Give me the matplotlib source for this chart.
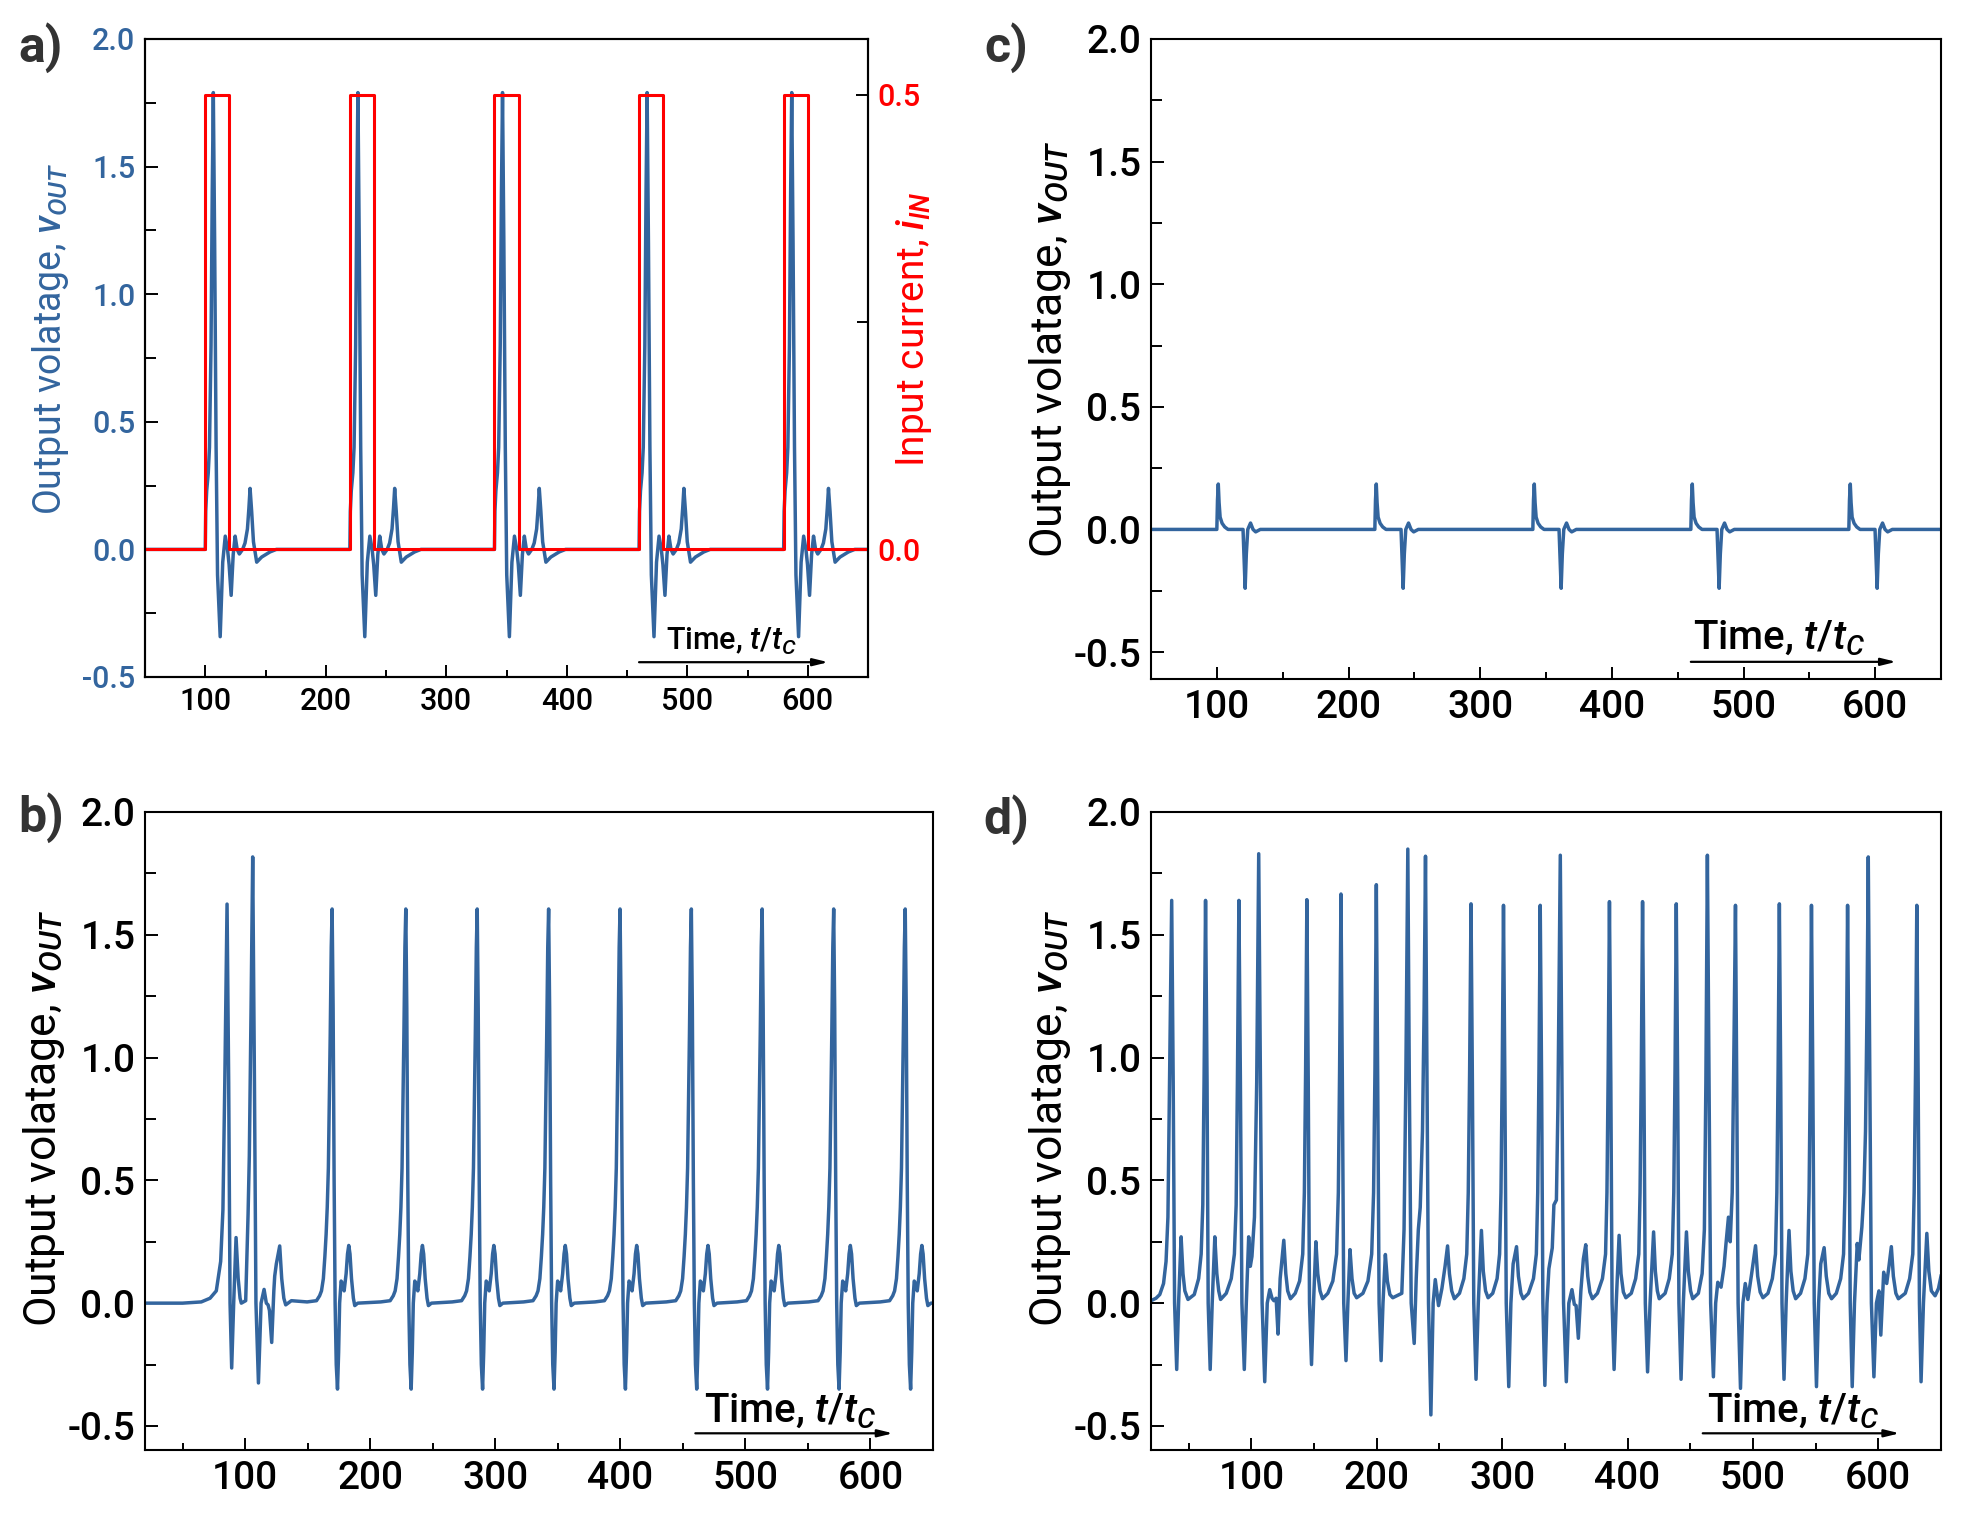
import matplotlib
matplotlib.use('Agg')
import matplotlib.pyplot as plt
from matplotlib.ticker import MultipleLocator

plt.rcParams['font.family'] = ['Roboto', 'DejaVu Sans']
plt.rcParams['font.weight'] = 'medium'
plt.rcParams['mathtext.fontset'] = 'custom'
plt.rcParams['mathtext.rm'] = 'Roboto:medium'
plt.rcParams['mathtext.it'] = 'Roboto:italic:medium'
plt.rcParams['mathtext.bf'] = 'Roboto:bold'

BLUE = '#33659e'
RED = '#ff0000'
DARK = '#333333'

# ---------------- panel a : pulses of input current and response ----------------
a_pulse_starts = [100, 220, 340, 460, 580]
a_pulse_ends = [120, 240, 360, 480, 600]
a_pulse_level = 0.5
# response to one pulse, time measured from pulse start
a_resp_dt = [0, 0.4, 1.2, 2.5, 3.5, 4.8, 5.8, 6.7, 7.8, 9.0, 10.2, 12.4, 14.5, 16.6, 18.5,
             19.8, 21.5, 23.2, 24.8, 26.5, 28.3, 31.0, 33.0, 35.0, 36.2, 37.2, 38.5, 40.0,
             42.7, 46.8, 53.7, 59.0]
a_resp_v = [0.0, 0.15, 0.23, 0.30, 0.40, 0.80, 1.40, 1.79, 1.20, 0.40, -0.10, -0.342, -0.05,
            0.052, 0.0, -0.06, -0.18, -0.02, 0.052, 0.0, -0.018, 0.0, 0.025, 0.08, 0.16, 0.239,
            0.15, 0.03, -0.05, -0.03, -0.01, 0.0]

# ---------------- panel c : sub-threshold response ----------------
c_pulse_starts = [100, 220, 340, 460, 580]
c_resp_dt = [0, 0.5, 1.1, 1.7, 2.5, 4.0, 6.0, 8.5, 19.9, 20.7, 21.5, 22.4, 23.5, 25.6,
             27.5, 29.5, 33.0]
c_resp_v = [0.0, 0.12, 0.185, 0.11, 0.05, 0.025, 0.01, 0.0, 0.0, -0.12, -0.24, -0.10, 0.0,
            0.026, 0.0, -0.01, 0.0]

# ---------------- panel b : periodic spiking ----------------
b_lead_t = [20, 50, 65, 72, 77, 80.5, 82.3, 83.8, 85.6, 86.9, 88.0, 89.3, 90.9, 92.8, 94.5,
            96.0, 97.0, 100.5, 102.4, 103.4, 104.8, 106.1, 107.5, 108.7, 110.7, 112.8, 115.2,
            117.0, 118.4, 119.5, 121.3, 123.0, 123.7, 125.0, 127.7, 129.3, 131.0, 132.5, 137.0,
            149.0]
b_lead_v = [0.0, 0.0, 0.005, 0.02, 0.05, 0.17, 0.38, 0.9, 1.625, 0.9, 0.0, -0.264, 0.0, 0.267,
            0.1, 0.02, 0.0, 0.01, 0.36, 0.6, 1.2, 1.817, 0.9, 0.0, -0.325, 0.0, 0.056, 0.0,
            -0.007, -0.03, -0.16, 0.05, 0.11, 0.16, 0.233, 0.1, 0.02, -0.007, 0.01, 0.005]
b_spike_times = [169.6, 228.5, 285.6, 342.7, 399.8, 456.8, 513.4, 570.6, 627.8]
b_spike_dt = [-20, -12.5, -10, -8.5, -7, -5.8, -4.8, -3.9, -3.0, -2.3, -1.5, -0.7, 0, 0.8, 1.6,
              2.4, 3.3, 4.3, 5.2, 6.0, 7.2, 8.2, 9.6, 11.2, 12.3, 13.3, 14.3, 15.5, 17.0, 18.1,
              20.5]
b_spike_v = [0.005, 0.01, 0.03, 0.05, 0.1, 0.19, 0.28, 0.39, 0.55, 0.8, 1.1, 1.45, 1.605, 1.2,
             0.5, 0.0, -0.25, -0.35, -0.2, 0.0, 0.09, 0.08, 0.05, 0.12, 0.2, 0.235, 0.2, 0.1,
             0.02, -0.01, 0.0]
b_tail_t = [650]
b_tail_v = [0.0]

# ---------------- panel d : irregular spiking ----------------
d_part1 = [(20, 0.01), (24, 0.02), (27, 0.035), (30, 0.08), (32, 0.17), (33.5, 0.35), (34.8, 0.9),
           (36.5, 1.64), (37.7, 0.9), (38.8, 0.0), (40.5, -0.27), (42, 0.0), (44, 0.27),
           (45.5, 0.12), (47, 0.05), (49.5, 0.015),
           (54.5, 0.035), (58, 0.1), (60, 0.2), (61.3, 0.4), (62.3, 0.9), (63.5, 1.64),
           (64.7, 0.9), (65.6, 0.0), (67.2, -0.27), (68.8, 0.0), (70.9, 0.27), (72.5, 0.12),
           (74, 0.05), (75.5, 0.015),
           (80, 0.04), (84, 0.1), (86.5, 0.2), (87.9, 0.4), (88.9, 0.9), (90.1, 1.64), (91.3, 0.9),
           (92.5, 0.0), (94.4, -0.27), (96, 0.0), (97.9, 0.27), (99.2, 0.15), (100.5, 0.19),
           (102.5, 0.35), (104.3, 0.9), (105.9, 1.83), (107.3, 0.9), (108.6, 0.0), (110.7, -0.32),
           (112.7, 0.0), (114.7, 0.055), (116.5, 0.02), (118, 0.01), (119.8, 0.02), (121.3, -0.126),
           (123, 0.1), (125.9, 0.256), (127.5, 0.12), (129, 0.05), (131.2, 0.018)]
d_part2 = [(135, 0.04), (138.5, 0.09), (141, 0.2), (142.3, 0.45), (143.3, 0.95), (144.3, 1.643),
           (145.4, 0.9), (146.4, 0.0), (148, -0.25), (149.6, 0.0), (151.5, 0.25), (153, 0.12),
           (154.8, 0.05), (156.8, 0.018),
           (161, 0.04), (165, 0.09), (168, 0.2), (169.4, 0.45), (170.4, 0.95), (171.5, 1.666),
           (172.6, 0.9), (173.7, 0.0), (175.5, -0.234), (177, 0.0), (178.7, 0.218), (180.3, 0.1),
           (182, 0.04), (184, 0.022),
           (189, 0.04), (193, 0.09), (196, 0.2), (197.5, 0.45), (198.6, 0.95), (199.7, 1.704),
           (200.8, 0.9), (201.9, 0.0), (203.5, -0.234), (205, 0.0), (206.9, 0.198), (208.5, 0.09),
           (210.5, 0.035), (212.8, 0.022), (216, 0.03), (220, 0.04), (221.8, 0.3), (223.2, 0.9),
           (224.8, 1.849), (226, 0.9), (227.5, 0.0), (229.9, -0.164), (231.5, 0.1), (233.2, 0.3),
           (234.7, 0.39), (236.5, 0.7), (237.8, 1.2), (238.9, 1.82), (240.1, 0.9), (241.3, 0.0),
           (243.2, -0.455), (245, 0.0), (246.7, 0.096), (249.3, -0.01), (252, 0.06), (254.5, 0.15),
           (256.5, 0.233), (258, 0.12), (259.8, 0.05), (261.9, 0.018),
           (266, 0.04), (269.5, 0.1), (271.8, 0.2), (273, 0.45), (274.1, 0.95), (275.2, 1.626),
           (276.3, 0.9), (277.4, 0.0), (279.2, -0.31), (281, 0.0), (283.5, 0.296), (285, 0.13),
           (286.8, 0.05), (288.8, 0.022),
           (292.5, 0.04), (296, 0.1), (298, 0.2)]
d_part3 = [(299.1, 0.45), (300.1, 0.95), (301.1, 1.62), (302.2, 0.9), (303.3, 0.0), (305.3, -0.34),
           (307, 0.0), (308.8, 0.16), (311.5, 0.23), (313, 0.11), (315, 0.04), (316.8, 0.018),
           (321, 0.04), (325, 0.1), (327.3, 0.2), (328.4, 0.45), (329.4, 0.95), (330.4, 1.62),
           (331.5, 0.9), (332.5, 0.0), (334.1, -0.335), (335.8, 0.0), (337.3, 0.14), (340, 0.225),
           (341.3, 0.4), (343.3, 0.42), (344.5, 0.8), (346.4, 1.824), (347.7, 0.9), (349, 0.0),
           (351.2, -0.32), (353.2, 0.0), (355.7, 0.055), (357.6, -0.005), (359, -0.01),
           (360.8, -0.143), (362.8, 0.05), (364.8, 0.18), (366.7, 0.238), (368.3, 0.11),
           (370, 0.045), (372, 0.018),
           (376, 0.04), (380, 0.1), (382.5, 0.2), (383.6, 0.45), (384.6, 0.95), (385.6, 1.635),
           (386.7, 0.9), (387.7, 0.0), (389.3, -0.27), (391, 0.0), (393.3, 0.276), (394.8, 0.12),
           (396.7, 0.045), (398.7, 0.022),
           (403, 0.04), (406.5, 0.1), (409, 0.2), (410, 0.45), (411, 0.95), (412, 1.635),
           (413.1, 0.9), (414.2, 0.0), (416, -0.28), (418, 0.0), (420.8, 0.29), (422.2, 0.13),
           (423.8, 0.05), (425.3, 0.018),
           (430, 0.04), (433.3, 0.1), (435.7, 0.2), (436.9, 0.45), (437.9, 0.95), (438.9, 1.626),
           (440, 0.9), (441, 0.0), (442.7, -0.31), (444.5, 0.0), (447, 0.29), (448.5, 0.13),
           (450.3, 0.05), (452, 0.018)]
d_part4 = [(456.5, 0.04), (459.5, 0.12), (461.3, 0.3), (462.5, 0.9), (463.7, 1.824), (465, 0.9),
           (466.3, 0.0), (468.5, -0.30), (470.3, 0.0), (472, 0.085), (474.6, 0.065), (477, 0.15),
           (478.5, 0.24), (480.5, 0.35), (481.9, 0.25), (483.5, 0.45), (485, 1.1), (486.1, 1.62),
           (487.1, 0.9), (488.2, 0.0), (490.1, -0.347), (492, 0.0), (493.9, 0.08), (496, 0.015),
           (499, 0.12), (502.1, 0.234), (503.8, 0.11), (505.8, 0.045), (508, 0.022),
           (512, 0.04), (515.5, 0.1), (518, 0.2), (519.1, 0.45), (520.1, 0.95), (521.1, 1.626),
           (522.2, 0.9), (523.2, 0.0), (524.8, -0.31), (526.5, 0.0), (528.8, 0.296), (530.3, 0.13),
           (532.1, 0.05), (534.1, 0.018),
           (538, 0.04), (541.5, 0.1), (543.8, 0.2), (544.8, 0.45), (545.8, 0.95), (546.7, 1.62),
           (547.8, 0.9), (548.9, 0.0), (550.7, -0.34), (552.4, 0.0), (554.1, 0.16), (556.8, 0.226),
           (558.5, 0.11), (560.5, 0.04), (562.7, 0.018),
           (566.5, 0.04), (570, 0.1), (572.3, 0.2), (573.4, 0.45), (574.5, 0.95), (575.5, 1.62),
           (576.6, 0.9), (577.6, 0.0), (579.2, -0.34), (581, 0.0), (583.2, 0.243), (584.5, 0.176),
           (586.9, 0.31), (588.5, 0.45), (589.8, 0.7), (591, 1.2), (592, 1.817), (593.3, 0.9),
           (594.5, 0.0), (596.5, -0.30), (598.5, 0.0), (600.5, 0.05), (602, -0.13), (604.3, 0.126),
           (606.7, 0.08), (608.5, 0.15), (610.4, 0.23), (612, 0.11), (614, 0.04), (616, 0.018),
           (621.5, 0.04), (625, 0.1), (627.5, 0.2), (628.6, 0.45), (629.7, 0.95), (630.7, 1.62),
           (631.8, 0.9), (632.8, 0.0), (634.1, -0.32), (636, 0.0), (638.7, 0.284), (640.3, 0.13),
           (642.3, 0.05), (645.3, 0.03), (648, 0.06), (650, 0.11)]

x_major = [100, 200, 300, 400, 500, 600]
y_major = [-0.5, 0.0, 0.5, 1.0, 1.5, 2.0]
y_ticklabels = ['-0.5', '0.0', '0.5', '1.0', '1.5', '2.0']


def repeat_template(starts, dt, v):
    ts, vs = [], []
    for s in starts:
        ts.extend([s + d for d in dt])
        vs.extend(v)
    return ts, vs


# assemble series
a_t, a_v = repeat_template(a_pulse_starts, a_resp_dt, a_resp_v)
a_t = [50] + a_t + [650]
a_v = [0.0] + a_v + [0.0]
i_t, i_v = [50], [0.0]
for s, e in zip(a_pulse_starts, a_pulse_ends):
    i_t += [s, s, s, e, e, e]
    i_v += [0.0, a_pulse_level / 2, a_pulse_level, a_pulse_level, a_pulse_level / 2, 0.0]
i_t.append(650)
i_v.append(0.0)

c_t, c_v = repeat_template(c_pulse_starts, c_resp_dt, c_resp_v)
c_t = [50] + c_t + [650]
c_v = [0.0] + c_v + [0.0]

bt, bv = repeat_template(b_spike_times, b_spike_dt, b_spike_v)
b_t = b_lead_t + bt + b_tail_t
b_v = b_lead_v + bv + b_tail_v

d_all = d_part1 + d_part2 + d_part3 + d_part4
d_t = [p[0] for p in d_all]
d_v = [p[1] for p in d_all]

W, H = 1972, 1521
fig = plt.figure(figsize=(W / 100, H / 100), dpi=100)
LW = 2.5


def px_axes(l, t, r, b):
    return fig.add_axes([l / W, 1 - b / H, (r - l) / W, (b - t) / H])


def style(ax, xlim, ylim, fs, tick_color='black'):
    ax.set_xlim(*xlim)
    ax.set_ylim(*ylim)
    ax.set_xticks(x_major)
    ax.set_xticklabels([str(x) for x in x_major])
    ax.xaxis.set_minor_locator(MultipleLocator(50))
    ax.set_yticks(y_major)
    ax.set_yticklabels(y_ticklabels)
    ax.yaxis.set_minor_locator(MultipleLocator(0.25))
    ax.tick_params(which='both', direction='in', top=False, right=False, width=1.4)
    ax.tick_params(which='major', length=9, labelsize=fs, pad=7)
    ax.tick_params(which='minor', length=5)
    ax.tick_params(axis='y', which='minor', length=8)
    ax.tick_params(axis='y', labelcolor=tick_color)
    for sp in ax.spines.values():
        sp.set_linewidth(1.5)


def time_arrow(ax, x0, x1, ya, xt, yt, fs):
    ax.annotate('', xy=(x1, ya), xytext=(x0, ya),
                arrowprops=dict(arrowstyle='-|>,head_length=0.9,head_width=0.22',
                                color='black', lw=1.6, shrinkA=0, shrinkB=0))
    ax.text(xt, yt, 'Time, $t/t_C$', fontsize=fs, va='baseline', ha='left', color='black')


# ---- a ----
axa = px_axes(145, 39, 868, 677)
axa.plot(a_t, a_v, color=BLUE, lw=LW)
style(axa, (50, 650), (-0.5, 2.0), 22, tick_color=BLUE)
axa.set_ylabel('Output volatage, $v_{OUT}$', color=BLUE, fontsize=27, va='center')
axa.yaxis.set_label_coords(-0.131, 0.53)
time_arrow(axa, 460, 617, -0.442, 482, -0.394, 22)
axr = axa.twinx()
axr.plot(i_t, i_v, color=RED, lw=2.2)
axr.set_ylim(-0.5 / 3.564, 2.0 / 3.564)
axr.set_yticks([0.0, 0.5])
axr.set_yticklabels(['0.0', '0.5'])
axr.yaxis.set_minor_locator(MultipleLocator(0.25))
axr.tick_params(axis='y', which='both', direction='in', width=1.4, labelcolor=RED,
                labelsize=22, pad=7)
axr.tick_params(axis='y', which='major', length=9)
axr.tick_params(axis='y', which='minor', length=8)
axr.set_ylabel('Input current, $i_{IN}$', color=RED, fontsize=28, va='center', rotation=90)
axr.yaxis.set_label_coords(1.063, 0.545)
for sp in axr.spines.values():
    sp.set_linewidth(1.5)

# ---- c ----
axc = px_axes(1151, 39, 1941, 679)
axc.plot(c_t, c_v, color=BLUE, lw=LW)
style(axc, (50, 650), (-0.61, 2.0), 28)
axc.set_ylabel('Output volatage, $v_{OUT}$', fontsize=32, va='center')
axc.yaxis.set_label_coords(-0.128, 0.516)
time_arrow(axc, 460, 616, -0.54, 462, -0.49, 29)

# ---- b ----
axb = px_axes(145, 812, 933, 1450)
axb.plot(b_t, b_v, color=BLUE, lw=LW)
style(axb, (20, 650), (-0.598, 2.0), 28)
axb.set_ylabel('Output volatage, $v_{OUT}$', fontsize=32, va='center')
axb.yaxis.set_label_coords(-0.128, 0.52)
time_arrow(axb, 460, 618, -0.53, 467, -0.485, 29)

# ---- d ----
axd = px_axes(1151, 812, 1941, 1450)
axd.plot(d_t, d_v, color=BLUE, lw=LW)
style(axd, (20, 650), (-0.598, 2.0), 28)
axd.set_ylabel('Output volatage, $v_{OUT}$', fontsize=32, va='center')
axd.yaxis.set_label_coords(-0.128, 0.52)
time_arrow(axd, 460, 617, -0.53, 463, -0.485, 29)

# panel letters
for lab, x, y in [('a)', 41, 48), ('c)', 1006, 48), ('b)', 41, 818), ('d)', 1006, 820)]:
    fig.text(x / W, 1 - y / H, lab, fontsize=36, fontweight='bold', color=DARK,
             ha='center', va='center')

fig.savefig('out.png', dpi=100)
